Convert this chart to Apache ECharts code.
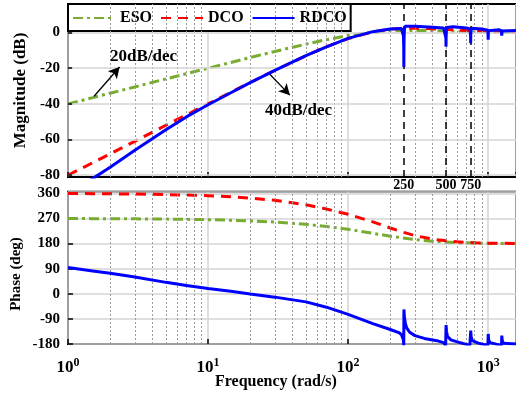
<!DOCTYPE html>
<html><head><meta charset="utf-8">
<script src="https://cdn.jsdelivr.net/npm/echarts@6/dist/echarts.min.js"></script>
<style>html,body{margin:0;padding:0;background:#fff}#c{width:516px;height:397px}</style>
</head><body><div id="c"></div>
<script>
// ---- data ----
const esoFreq  = [1, 1.5, 2, 3, 5, 7, 10, 15, 20, 30, 50, 70, 100, 150, 200, 300, 400, 600, 1000, 1580];
const esoMag   = [-40, -36.5, -34, -30.5, -26, -23.1, -20, -16.5, -14, -10.6, -6.5, -4, -1.7, 0.2, 1.0, 1.2, 1.1, 0.7, 0.3, 0.15];
const esoPhase = [270, 269.4, 269.1, 268.7, 267.8, 267, 265.7, 263.6, 261.4, 257.2, 249, 241.3, 231, 216.8, 206.6, 194.3, 188.1, 183.2, 180.8, 180.3];

const dcoFreq  = [1, 1.5, 2, 3, 5, 7, 10, 15, 20, 30, 50, 70, 100, 150, 200, 250, 300, 400, 500, 600, 800, 1000, 1580];
const dcoMag   = [-80, -73, -68, -61, -52, -46.2, -40, -33, -28, -21.2, -13, -8, -3.4, 0.4, 1.9, 2.3, 2.5, 2.1, 1.7, 1.4, 0.9, 0.6, 0.3];
const dcoPhase = [359.5, 359, 358.5, 357.5, 355.7, 354, 351.6, 347.5, 343, 335, 319, 304, 285, 258, 236, 220, 208.5, 196, 190, 186.5, 183, 181.6, 180.5];

const rdcoMagFreq = [1, 1.5, 2, 3, 5, 7, 10, 15, 20, 30, 50, 70, 100, 150, 200, 240, 246, 248.5, 249.5, 250, 250.7, 252, 255, 260, 300, 400, 480, 495, 499, 500, 501, 505, 510, 560, 700, 742, 749, 750, 751, 757, 765, 900, 995, 1000, 1005, 1015, 1200, 1245, 1250, 1255, 1265, 1580];
const rdcoMag     = [-91.5, -81.9, -75.5, -66, -54.5, -47.3, -40.5, -33.2, -28.1, -21.2, -13, -8, -3.3, 0.5, 2.0, 2.3, 1.8, -2, -8, -19.3, -5, 1.5, 3.5, 3.9, 3.5, 3.0, 2.6, 1.5, -3, -8, -2, 2.8, 3.6, 3.3, 2.6, 2.0, -2, -6, -1, 2.4, 2.8, 2.0, 1.3, -4, 1.0, 2.1, 1.5, 1.0, -1.8, 0.8, 1.6, 1.1];

const rdcoPhFreq  = [1, 1.5, 2, 3, 5, 7, 10, 15, 20, 30, 50, 70, 100, 150, 200, 230, 240, 245, 248, 249.7, 250, 250.3, 252, 256, 262, 275, 300, 350, 430, 480, 497, 500, 500.5, 504, 512, 540, 620, 740, 750, 750.6, 756, 770, 850, 995, 1000, 1000.8, 1008, 1030, 1245, 1250, 1251, 1260, 1290, 1580];
const rdcoPhase   = [94, 82, 73.5, 60, 41, 30, 19, 8, -1, -12, -29, -48, -74, -107, -128, -139, -146, -153, -165, -185, -185, -56, -80, -105, -122, -138, -150, -160, -168, -175, -185, -185, -112, -135, -152, -165, -174, -185, -185, -132, -155, -168, -177, -185, -185, -144, -165, -175, -185, -185, -150, -168, -177, -180];

const magTicks   = [0, -20, -40, -60, -80];
const harmonics  = [250, 500, 750];
const minorFreqs = [2,3,4,5,6,7,8,9,20,30,40,50,60,70,80,90,200,300,400,500,600,700,800,900];

// ---- chart ----
const FONT = "'Liberation Serif','Times New Roman',serif";
const pairs = (xs, ys) => xs.map((x, i) => [x, ys[i]]);
const GREEN = '#77AC30', RED = '#FF0000', BLUE = '#0000FF';

const minorLines = minorFreqs.map(f => ({ xAxis: f }));
const gridLineStyleMinor = { color: '#9a9a9a', type: [2, 2], width: 1 };

function xAxisDef(gi, labels) {
  return {
    gridIndex: gi, type: 'log', logBase: 10, min: 1, max: 1580,
    axisLine: { show: false, onZero: false },
    axisTick: { show: true, inside: true, length: 5, lineStyle: { color: '#000', width: 1.5 } },
    splitLine: { show: true, lineStyle: { color: '#d4d4d4', width: 1.5 } },
    axisLabel: labels ? {
      show: true, margin: 13, showMaxLabel: false,
      formatter: v => {
        const e = Math.round(Math.log10(v));
        if (Math.abs(Math.pow(10, e) - v) > 1e-6 * v) return '';
        return '{b|10}{s|' + e + '}';
      },
      rich: {
        b: { fontSize: 17, fontWeight: 'bold', fontFamily: FONT, color: '#000' },
        s: { fontSize: 12, fontWeight: 'bold', fontFamily: FONT, color: '#000', padding: [0, 0, 10, 0] }
      }
    } : { show: false }
  };
}

const option = {
  animation: false,
  backgroundColor: '#fff',
  grid: [
    { left: 68, top: 4, width: 452, height: 173, show: true, borderColor: '#000', borderWidth: 2, containLabel: false },
    { left: 68, top: 191.7, width: 452, height: 152.3, show: true, borderColor: '#000', borderWidth: 2, containLabel: false }
  ],
  legend: {
    left: 68, top: 4, orient: 'horizontal',
    data: ['ESO', 'DCO', 'RDCO'],
    itemWidth: 42, itemHeight: 12, itemGap: 8,
    padding: [6, 4, 5, 4],
    itemStyle: { opacity: 0 },
    backgroundColor: '#fff', borderColor: '#000', borderWidth: 2, borderRadius: 0,
    textStyle: { fontFamily: FONT, fontWeight: 'bold', fontSize: 16, color: '#000', padding: [0, 0, 0, 0] }
  },
  xAxis: [xAxisDef(0, false), xAxisDef(1, true)],
  yAxis: [
    {
      gridIndex: 0, type: 'value', min: -81, max: 16, interval: 1,
      axisLine: { show: false, onZero: false }, axisTick: { show: false }, splitLine: { show: false },
      axisLabel: {
        margin: 8, fontFamily: FONT, fontWeight: 'bold', fontSize: 15, color: '#000',
        formatter: v => (Math.round(v) % 20 === 0 ? String(Math.round(v)) : '')
      },
      name: 'Magnitude (dB)', nameLocation: 'middle', nameGap: 34,
      nameTextStyle: { fontFamily: FONT, fontWeight: 'bold', fontSize: 17, color: '#000' }
    },
    {
      gridIndex: 1, type: 'value', min: -180, max: 366, interval: 90,
      axisLine: { show: false, onZero: false },
      axisTick: { show: true, inside: true, length: 5, lineStyle: { color: '#000', width: 1.5 } },
      splitLine: { show: true, lineStyle: { color: '#d4d4d4', width: 1.5 } },
      axisLabel: { margin: 8, showMaxLabel: false, fontFamily: FONT, fontWeight: 'bold', fontSize: 15, color: '#000' }
    }
  ],
  series: [
    {
      type: 'line', xAxisIndex: 0, yAxisIndex: 0, data: [], z: 1, silent: true,
      markLine: {
        silent: true, symbol: 'none', animation: false,
        label: { show: false },
        data: [
          ...minorLines.map(d => ({ ...d, lineStyle: gridLineStyleMinor })),
          ...magTicks.map(v => ({ yAxis: v, lineStyle: { color: '#d4d4d4', type: 'solid', width: 1.5 } }))
        ]
      }
    },
    {
      type: 'line', xAxisIndex: 0, yAxisIndex: 0, data: [], z: 2, silent: true,
      markLine: {
        silent: true, symbol: 'none', animation: false,
        lineStyle: { color: '#000', type: [7, 5], width: 1.5 },
        label: { show: true, position: 'start', distance: 1, formatter: p => String(p.value),
          fontFamily: FONT, fontWeight: 'bold', fontSize: 14, color: '#000' },
        data: harmonics.map(h => ({ xAxis: h }))
      }
    },
    {
      type: 'line', xAxisIndex: 0, yAxisIndex: 0, data: [], z: 2, silent: true,
      markLine: {
        silent: true, symbol: 'none', animation: false,
        label: { show: false },
        lineStyle: { color: '#000', type: 'solid', width: 1.5 },
        data: magTicks.map(v => [{ coord: [1, v] }, { coord: [1.07, v] }])
      }
    },
    {
      type: 'line', xAxisIndex: 0, yAxisIndex: 0, data: [], z: 5, silent: true,
      markLine: {
        silent: true, symbol: ['none', 'arrow'], symbolSize: [9, 11], animation: false,
        lineStyle: { color: '#000', type: 'solid', width: 1.3 },
        label: { show: false },
        data: [
          [{ coord: [1.535, -35.7] }, { coord: [2.335, -19.3] }],
          [{ coord: [27.6, -23.4] }, { coord: [38.4, -35.1] }]
        ]
      }
    },
    {
      type: 'line', xAxisIndex: 1, yAxisIndex: 1, data: [], z: 1, silent: true,
      markLine: {
        silent: true, symbol: 'none', animation: false,
        label: { show: false },
        data: minorLines.map(d => ({ ...d, lineStyle: gridLineStyleMinor }))
      }
    },
    { name: 'ESO', type: 'line', xAxisIndex: 0, yAxisIndex: 0, z: 4, symbol: 'none',
      data: pairs(esoFreq, esoMag), lineStyle: { color: GREEN, width: 3, type: [10, 4, 3, 4] }, itemStyle: { color: GREEN } },
    { name: 'DCO', type: 'line', xAxisIndex: 0, yAxisIndex: 0, z: 4, symbol: 'none',
      data: pairs(dcoFreq, dcoMag), lineStyle: { color: RED, width: 3, type: [10, 7] }, itemStyle: { color: RED } },
    { name: 'RDCO', type: 'line', xAxisIndex: 0, yAxisIndex: 0, z: 5, symbol: 'none',
      data: pairs(rdcoMagFreq, rdcoMag), lineStyle: { color: BLUE, width: 3 }, itemStyle: { color: BLUE } },
    { name: 'ESO', type: 'line', xAxisIndex: 1, yAxisIndex: 1, z: 4, symbol: 'none',
      data: pairs(esoFreq, esoPhase), lineStyle: { color: GREEN, width: 3, type: [10, 4, 3, 4] }, itemStyle: { color: GREEN } },
    { name: 'DCO', type: 'line', xAxisIndex: 1, yAxisIndex: 1, z: 4, symbol: 'none',
      data: pairs(dcoFreq, dcoPhase), lineStyle: { color: RED, width: 3, type: [10, 7] }, itemStyle: { color: RED } },
    { name: 'RDCO', type: 'line', xAxisIndex: 1, yAxisIndex: 1, z: 5, symbol: 'none',
      data: pairs(rdcoPhFreq, rdcoPhase), lineStyle: { color: BLUE, width: 3 }, itemStyle: { color: BLUE } }
  ],
  graphic: [
    { type: 'text', left: 110, top: 48, z: 10, style: { text: '20dB/dec', fontFamily: FONT, fontWeight: 'bold', fontSize: 17, fill: '#000' } },
    { type: 'text', left: 265, top: 102, z: 10, style: { text: '40dB/dec', fontFamily: FONT, fontWeight: 'bold', fontSize: 17, fill: '#000' } },
    { type: 'text', left: 215, top: 374, z: 10, style: { text: 'Frequency (rad/s)', fontFamily: FONT, fontWeight: 'bold', fontSize: 16, fill: '#000' } },
    { type: 'text', x: 16, y: 274, rotation: Math.PI / 2, z: 10,
      style: { text: 'Phase (deg)', fontFamily: FONT, fontWeight: 'bold', fontSize: 15, fill: '#000', align: 'center', verticalAlign: 'middle' } }
  ]
};

const chart = echarts.init(document.getElementById('c'), null, { renderer: 'canvas' });
chart.setOption(option);
</script>
</body></html>
